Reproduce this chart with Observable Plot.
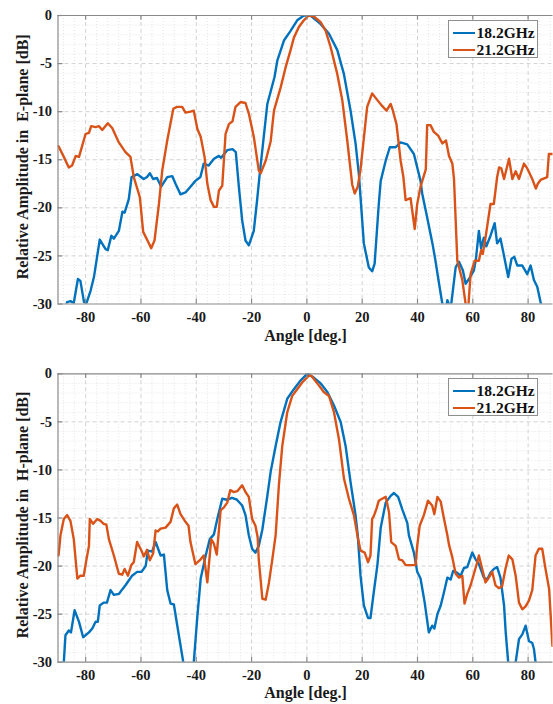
<!DOCTYPE html>
<html><head><meta charset="utf-8">
<script src="https://cdn.jsdelivr.net/npm/d3@7"></script>
<script src="https://cdn.jsdelivr.net/npm/@observablehq/plot@0.6"></script>
<style>
html,body{margin:0;padding:0;background:#fff;overflow:hidden;}
.panel{position:relative;width:553px;}
.legend{position:absolute;left:447.5px;width:88px;height:36px;border:1px solid #8f8f8f;background:#fff;font-family:"Liberation Serif","Times New Roman",serif;font-weight:bold;font-size:15.5px;color:#111;}
.row{position:absolute;left:4px;height:18px;display:flex;align-items:center;white-space:nowrap;}
.sw{width:22px;height:2.4px;margin-right:2px;}
svg text{font-family:"Liberation Serif","Times New Roman",serif;}
</style></head><body><div id="chart"></div>
<script>
const seriesNames = ["18.2GHz", "21.2GHz"];
const seriesColors = ["#0072BD", "#D95319"];
const xTicks = [-80, -60, -40, -20, 0, 20, 40, 60, 80];
const yTicks = [-30, -25, -20, -15, -10, -5, 0];
const xMinor = d3.range(-88, 89, 4).filter(d => d % 20 !== 0);
const yMinor = d3.range(-29, 0, 1).filter(d => d % 5 !== 0);
const xLabel = "Angle [deg.]";
const yLabelE = "Relative Amplitude in\u00a0 E-plane [dB]";
const yLabelH = "Relative Amplitude in\u00a0 H-plane [dB]";

// E-plane, 18.2 GHz  [angle, dB]
const e182 = [[-88,-31],[-86.7,-29.8],[-85.5,-29.7],[-84.3,-29.9],[-82.8,-27.4],[-81.9,-27.6],[-80.6,-29.8],[-79.7,-29.9],[-78.2,-28.6],[-77.0,-27.2],[-74.9,-23.3],[-72.8,-24.3],[-72.0,-24.4],[-70.7,-22.9],[-69.8,-23.2],[-68.0,-22.4],[-66.7,-20.4],[-65.9,-20.5],[-64.4,-19.1],[-63.4,-16.8],[-61.3,-16.5],[-59.0,-17.0],[-57.8,-16.8],[-56.8,-16.4],[-55.6,-17.0],[-54.2,-16.9],[-52.7,-17.8],[-50.5,-16.8],[-48.7,-16.7],[-47.5,-17.5],[-45.7,-18.6],[-43.9,-18.4],[-42.1,-17.8],[-40.3,-17.2],[-38.5,-16.8],[-37.3,-15.4],[-35.5,-15.6],[-33.6,-14.9],[-31.8,-14.6],[-31.0,-14.8],[-28.8,-14.0],[-26.9,-13.9],[-25.7,-14.2],[-24.6,-17.8],[-23.4,-21.3],[-22.2,-23.4],[-21.0,-23.9],[-19.2,-22.4],[-18.0,-19.2],[-17.1,-16.6],[-14.3,-9.2],[-11.7,-6.4],[-10.7,-4.7],[-8.3,-2.6],[-5.9,-1.6],[-3.5,-0.5],[-1.1,0],[1.3,0],[5.0,-0.9],[8.0,-1.9],[11.0,-3.6],[13.4,-6.1],[15.8,-9.9],[17.6,-13.3],[18.8,-16.5],[20.6,-23.7],[22.4,-26.2],[23.6,-26.6],[24.5,-25.8],[26.0,-19.6],[26.7,-17.2],[28.5,-15.1],[30.0,-13.7],[32.1,-13.7],[33.9,-13.2],[36.3,-13.4],[38.7,-14.4],[41.1,-17.2],[41.7,-18.5],[43.5,-21.0],[45.4,-23.7],[46.5,-25.5],[47.8,-27.9],[49.0,-30],[50.0,-31],[50.8,-29.6],[52,-30.5],[53.8,-26.2],[55.0,-25.6],[56.4,-26.5],[57.4,-27.9],[58.6,-27.4],[60.4,-26.5],[61.1,-25.4],[62.2,-22.4],[63.0,-24.2],[64.0,-23.1],[64.9,-24.0],[66.4,-22.9],[67.9,-21.6],[68.8,-23.7],[70.0,-23.2],[71.3,-25.0],[72.8,-27.2],[74.0,-25.3],[75.0,-25.1],[76.1,-26.0],[77.9,-26.0],[79.7,-26.9],[80.9,-26.0],[82.1,-27.5],[83.3,-28.2],[84.5,-29.8],[85.5,-31]];

// E-plane, 21.2 GHz
const e212 = [[-89.8,-13.6],[-87.9,-14.7],[-86.1,-15.8],[-84.9,-15.6],[-83.6,-14.6],[-82.4,-14.7],[-80.0,-12.3],[-78.8,-12.2],[-78.0,-11.5],[-76.4,-11.6],[-75.2,-11.5],[-74.0,-11.9],[-72.0,-11.2],[-70.4,-11.7],[-68.0,-13.2],[-65.6,-14.2],[-63.8,-14.7],[-62.6,-16.8],[-60.4,-18.9],[-59.2,-22.5],[-57.1,-23.7],[-56.3,-24.2],[-55.1,-23.4],[-53.5,-19.6],[-52.3,-16.1],[-50.5,-13.0],[-48.3,-9.7],[-47.0,-9.5],[-45.1,-9.5],[-43.9,-10.1],[-42.1,-10.0],[-40.9,-9.9],[-39.6,-11.8],[-38.4,-12.6],[-37.0,-14.7],[-36.0,-17.5],[-34.8,-19.2],[-33.6,-19.9],[-32.6,-19.9],[-31.8,-18.2],[-30.6,-17.7],[-29.4,-12.3],[-28.2,-11.3],[-26.9,-11.0],[-25.8,-9.5],[-24.0,-9.0],[-22.2,-9.1],[-21.0,-10.2],[-19.2,-12.6],[-17.4,-16.1],[-16.7,-16.4],[-14.9,-15.1],[-13.1,-13.1],[-11.9,-9.9],[-9.5,-7.5],[-7.7,-5.4],[-5.9,-3.6],[-4.7,-2.3],[-2.9,-1.2],[-1.1,-0.5],[0.7,0],[2.5,-0.1],[5.0,-0.7],[6.8,-1.6],[8.6,-3.3],[11.0,-6.1],[12.8,-8.8],[14.6,-13.0],[16.4,-17.6],[17.3,-18.5],[18.4,-17.8],[19.4,-16.0],[21.8,-9.5],[23.6,-8.1],[25.5,-8.8],[27.2,-9.4],[28.8,-9.9],[30.3,-9.2],[31.1,-9.9],[32.4,-11.3],[33.9,-15.1],[34.9,-16.8],[35.7,-19.2],[37.5,-19.0],[39.0,-22.2],[39.9,-19.6],[41.1,-17.8],[43.0,-16.0],[43.5,-11.4],[44.7,-11.4],[45.9,-12.1],[47.5,-12.5],[49.0,-13.3],[50.3,-13.0],[51.4,-14.6],[52.6,-15.4],[53.2,-17.0],[54.4,-25.5],[56.2,-27.5],[57.4,-30],[58.2,-31],[59.2,-26.9],[60.7,-25.5],[62.2,-25.5],[63.0,-24.4],[63.6,-24.8],[64.6,-23.1],[66.4,-19.6],[67.6,-19.6],[68.8,-16.8],[69.5,-15.8],[70.3,-15.9],[71.3,-17.0],[73.1,-14.9],[74.3,-17.0],[75.5,-16.2],[76.7,-17.0],[78.5,-15.4],[79.7,-15.9],[81.5,-17.0],[82.8,-18.0],[83.5,-17.5],[84.5,-17.1],[86.9,-16.8],[87.5,-14.4],[89,-14.4]];

// H-plane, 18.2 GHz
const h182 = [[-88.2,-31],[-87.9,-30],[-87.3,-27.2],[-86.1,-26.7],[-85.3,-26.9],[-84.0,-24.6],[-82.4,-25.8],[-80.9,-27.4],[-78.8,-26.9],[-77.6,-26.5],[-76.4,-25.8],[-75.6,-25.8],[-74.9,-24.1],[-73.5,-23.8],[-72.3,-23.8],[-71.0,-22.5],[-69.8,-23.0],[-68.0,-22.9],[-66.7,-22.4],[-65.6,-22.0],[-64.4,-21.5],[-63.2,-21.0],[-61.4,-20.6],[-59.8,-20.6],[-58.3,-20.0],[-57.5,-18.4],[-56.0,-18.5],[-54.7,-17.5],[-52.9,-18.9],[-51.7,-18.8],[-50.5,-22.5],[-49.3,-23.9],[-48.1,-24.0],[-46.3,-27.2],[-44.7,-30],[-43.5,-31.5],[-41.5,-31.5],[-40.9,-30],[-39.6,-25.2],[-38.4,-21.3],[-36.6,-18.9],[-35.1,-17.2],[-33.6,-16.7],[-32.4,-15.1],[-30.6,-13.0],[-28.8,-13.1],[-27.1,-12.9],[-25.3,-13.1],[-23.4,-13.7],[-22.2,-14.7],[-21.0,-16.8],[-19.8,-18.2],[-18.6,-18.6],[-17.4,-17.9],[-16.1,-16.2],[-14.3,-12.7],[-13.1,-10.2],[-11.3,-7.5],[-9.5,-5.0],[-7.1,-2.6],[-4.7,-1.6],[-2.3,-0.7],[0.1,0],[2.5,-0.4],[5.0,-1.0],[7.4,-1.9],[9.8,-3.3],[12.2,-5.0],[14.0,-7.5],[15.8,-11.3],[17.6,-14.7],[18.4,-16.8],[19.4,-21.0],[20.6,-24.1],[22.1,-25.4],[23.0,-25.4],[24.2,-22.7],[25.5,-19.9],[26.7,-16.0],[28.5,-13.4],[30.3,-12.7],[31.5,-12.4],[33.0,-12.8],[34.5,-14.1],[36.3,-15.5],[36.9,-16.8],[38.7,-18.6],[39.9,-20.6],[41.1,-21.3],[42.6,-23.8],[44.1,-26.9],[45.3,-26.2],[46.1,-26.5],[47.2,-25.0],[48.4,-24.1],[49.6,-22.7],[50.8,-21.2],[52.0,-21.4],[52.9,-20.5],[54.4,-20.7],[55.6,-21.0],[56.8,-20.2],[58.0,-20.1],[59.8,-18.6],[61.0,-19.3],[62.2,-19.8],[64.0,-21.2],[65.2,-21.4],[66.4,-20.7],[67.6,-20.3],[68.8,-20.1],[70.0,-21.2],[71.3,-24.1],[71.9,-26.9],[72.8,-30],[73.5,-31.5],[75.0,-31.5],[75.5,-30],[76.7,-27.6],[77.9,-27.1],[79.1,-26.2],[80.3,-27.8],[81.5,-28.0],[82.1,-28.6],[82.7,-30],[83.3,-31.5]];

// H-plane, 21.2 GHz
const h212 = [[-89.8,-18.9],[-89.1,-16.8],[-87.9,-15.1],[-86.7,-14.7],[-85.5,-15.3],[-84.3,-17.2],[-83.0,-21.3],[-81.9,-21.0],[-80.7,-21.0],[-79.7,-19.3],[-78.8,-17.9],[-78.5,-15.1],[-77.3,-15.6],[-75.8,-15.1],[-74.6,-15.3],[-73.5,-15.6],[-72.5,-15.7],[-71.6,-17.2],[-69.8,-18.9],[-68.0,-20.8],[-66.8,-20.9],[-65.9,-20.3],[-64.7,-21.0],[-63.5,-19.9],[-62.6,-19.6],[-61.4,-17.5],[-59.8,-18.4],[-59.0,-19.0],[-57.8,-18.3],[-56.8,-19.4],[-55.6,-18.7],[-54.7,-16.3],[-53.9,-16.4],[-52.9,-16.1],[-51.1,-16.0],[-49.3,-15.4],[-48.1,-14.0],[-46.9,-13.6],[-45.7,-14.6],[-43.9,-15.4],[-42.8,-15.8],[-42.1,-17.5],[-40.3,-19.8],[-38.4,-19.3],[-37.3,-18.9],[-36.0,-21.7],[-34.6,-17.2],[-33.6,-17.7],[-32.6,-18.8],[-31.8,-16.2],[-31.2,-14.2],[-30.0,-13.9],[-28.8,-13.4],[-27.7,-12.1],[-26.5,-12.3],[-25.1,-12.2],[-23.4,-11.6],[-22.2,-12.3],[-21.0,-12.8],[-19.8,-15.1],[-18.6,-15.8],[-17.8,-17.0],[-17.4,-19.3],[-16.1,-23.4],[-14.9,-23.5],[-13.7,-21.7],[-12.5,-19.3],[-11.3,-16.8],[-10.1,-11.5],[-8.9,-7.5],[-7.1,-4.0],[-5.3,-2.3],[-3.5,-1.6],[-1.7,-0.9],[0.7,-0.2],[1.6,-0.2],[3.8,-1.0],[6.1,-1.9],[8.0,-2.3],[9.8,-4.0],[11.6,-6.8],[13.4,-10.9],[15.2,-13.0],[17.0,-14.7],[18.4,-17.0],[19.4,-18.4],[20.9,-18.6],[22.1,-19.6],[23.0,-18.9],[23.6,-15.1],[24.2,-14.8],[25.2,-14.0],[26.0,-13.2],[27.2,-13.0],[28.5,-12.8],[29.7,-14.4],[30.5,-17.5],[32.1,-17.9],[33.3,-19.3],[34.5,-19.4],[35.7,-19.9],[37.5,-19.9],[39.3,-19.9],[39.9,-17.9],[40.8,-15.8],[42.3,-14.7],[43.8,-13.2],[45.3,-13.7],[46.1,-14.6],[47.2,-12.8],[48.4,-13.3],[49.6,-15.1],[50.8,-16.8],[51.4,-17.8],[52.6,-19.1],[53.8,-20.8],[55.0,-21.2],[56.2,-21.0],[57.0,-23.9],[58.0,-22.9],[59.2,-22.0],[60.4,-20.8],[61.6,-19.6],[62.2,-18.9],[63.4,-20.3],[64.6,-21.7],[65.8,-21.2],[67.0,-20.6],[68.2,-22.0],[69.4,-22.3],[70.6,-22.1],[71.8,-20.3],[73.0,-18.9],[74.3,-19.3],[75.5,-21.0],[76.7,-23.8],[77.9,-24.5],[79.1,-24.2],[80.3,-23.6],[81.5,-22.5],[82.7,-18.9],[83.9,-18.2],[85.1,-18.2],[86.3,-20.3],[87.6,-22.4],[88.8,-28.3]];

const axisColor = "#8a8a8a";
const fmt = d => String(d);
const serif = "Liberation Serif, Times New Roman, serif";

function panel({a, b, ylabel, height, mt, mb, labelDy}) {
  const rows = [
    ...a.map(([angle, db]) => ({angle, db, series: seriesNames[0]})),
    ...b.map(([angle, db]) => ({angle, db, series: seriesNames[1]}))
  ];
  const plot = Plot.plot({
    width: 553, height,
    marginLeft: 57.5, marginRight: 0.5, marginTop: mt, marginBottom: mb,
    style: {fontFamily: serif, fontWeight: "bold", fontSize: "14px", color: "#1a1a1a", background: "#fff"},
    x: {domain: [-90, 89]},
    y: {domain: [-30, 0]},
    color: {domain: seriesNames, range: seriesColors},
    marks: [
      Plot.ruleX(xMinor, {stroke: "#e4e4e4", strokeDasharray: "1,2"}),
      Plot.ruleY(yMinor, {stroke: "#e4e4e4", strokeDasharray: "1,2"}),
      Plot.ruleX(xTicks, {stroke: "#d2d2d2", strokeDasharray: "4,3"}),
      Plot.ruleY(yTicks.filter(d => d > -30 && d < 0), {stroke: "#d2d2d2", strokeDasharray: "4,3"}),
      Plot.line(rows, {x: "angle", y: "db", stroke: "series", strokeWidth: 2.4, clip: true}),
      Plot.ruleX([-90], {stroke: axisColor, strokeWidth: 1.2}),
      Plot.ruleY([-30, 0], {stroke: axisColor, strokeWidth: 1.2}),
      Plot.ruleX(xTicks, {y1: 0, y2: -0.5, stroke: axisColor, strokeWidth: 1.2}),
      Plot.ruleX(xTicks, {y1: -30, y2: -29.5, stroke: axisColor, strokeWidth: 1.2}),
      Plot.ruleY(yTicks, {x1: -90, x2: -88.2, stroke: axisColor, strokeWidth: 1.2}),
      Plot.axisX({ticks: xTicks, tickSize: 0, tickPadding: 8, tickFormat: fmt, label: null, fontSize: 14.5, fontFamily: serif, fontWeight: "bold"}),
      Plot.axisY({ticks: yTicks, tickSize: 0, tickPadding: 6, tickFormat: fmt, label: null, fontSize: 14.5, fontFamily: serif, fontWeight: "bold"}),
      Plot.text([xLabel], {frameAnchor: "bottom", dy: labelDy, fontSize: 16, fontFamily: serif, fontWeight: "bold", fill: "#1a1a1a"}),
      Plot.text([ylabel], {frameAnchor: "left", textAnchor: "middle", dx: -35.5, dy: -3, rotate: -90, fontSize: 16, fontFamily: serif, fontWeight: "bold", fill: "#1a1a1a"})
    ]
  });
  const wrap = document.createElement("div");
  wrap.className = "panel";
  wrap.appendChild(plot);
  const lg = document.createElement("div");
  lg.className = "legend";
  lg.style.top = (mt + 5) + "px";
  seriesNames.forEach((name, i) => {
    const r = document.createElement("div");
    r.className = "row";
    r.style.top = (i === 0 ? 3 : 20) + "px";
    const sw = document.createElement("span");
    sw.className = "sw";
    sw.style.background = seriesColors[i];
    const t = document.createElement("span");
    t.textContent = name;
    r.appendChild(sw); r.appendChild(t);
    lg.appendChild(r);
  });
  wrap.appendChild(lg);
  return wrap;
}

const root = document.getElementById("chart");
root.appendChild(panel({a: e182, b: e212, ylabel: yLabelE, height: 355, mt: 15, mb: 51.5, labelDy: 37}));
root.appendChild(panel({a: h182, b: h212, ylabel: yLabelH, height: 349, mt: 18.3, mb: 42.3, labelDy: 35.5}));
</script></body></html>
